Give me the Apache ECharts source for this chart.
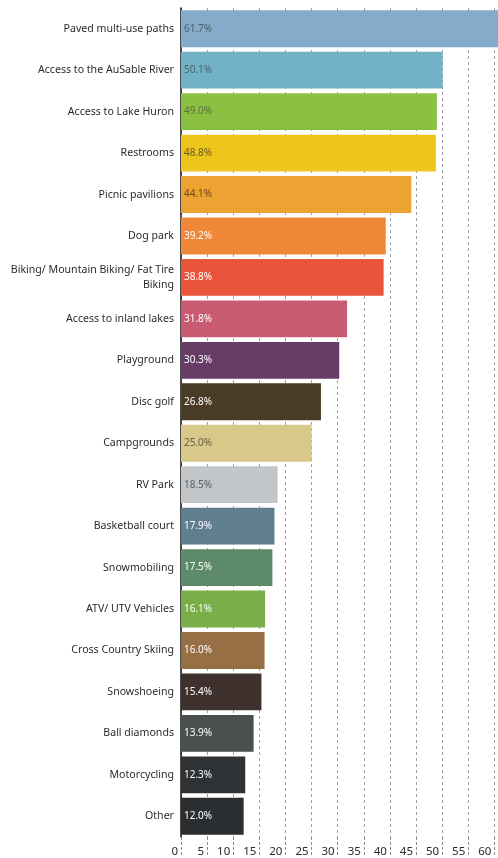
<!DOCTYPE html>
<html>
<head>
<meta charset="utf-8">
<script src="https://cdn.jsdelivr.net/npm/echarts@6/dist/echarts.min.js"></script>
<style>
  html, body { margin: 0; padding: 0; background: #fff; }
  #chart { width: 498px; height: 858px; }
</style>
</head>
<body>
<div id="chart"></div>
<script>
// Amenities, ordered from most to least requested
const categories = [
  'Paved multi-use paths',
  'Access to the AuSable River',
  'Access to Lake Huron',
  'Restrooms',
  'Picnic pavilions',
  'Dog park',
  'Biking/ Mountain Biking/ Fat Tire Biking',
  'Access to inland lakes',
  'Playground',
  'Disc golf',
  'Campgrounds',
  'RV Park',
  'Basketball court',
  'Snowmobiling',
  'ATV/ UTV Vehicles',
  'Cross Country Skiing',
  'Snowshoeing',
  'Ball diamonds',
  'Motorcycling',
  'Other'
];

// Share of respondents (%)
const values = [61.7, 50.1, 49.0, 48.8, 44.1, 39.2, 38.8, 31.8, 30.3, 26.8,
                25.0, 18.5, 17.9, 17.5, 16.1, 16.0, 15.4, 13.9, 12.3, 12.0];

const barColors = [
  '#84abc9', '#72b2c6', '#8bc142', '#eec51c', '#eea232',
  '#ef8638', '#e9553b', '#c85b72', '#673d68', '#4b3c27',
  '#d8c98b', '#c2c6c8', '#5f7e8f', '#5d8a69', '#79ae49',
  '#967044', '#3f312d', '#4a504c', '#2f3235', '#2b2e30'
];

const labelColors = [
  '#4d5c66', '#4d6470', '#5a6e3a', '#6a5a20', '#6a4a20',
  '#ffffff', '#ffffff', '#ffffff', '#ffffff', '#ffffff',
  '#6a6040', '#5a6066', '#ffffff', '#ffffff', '#ffffff',
  '#ffffff', '#ffffff', '#ffffff', '#ffffff', '#ffffff'
];

// The value axis runs past the right edge of the page, so the top bar is cut off
const xTicks = { min: 0, max: 60.7, interval: 5 };

const chart = echarts.init(document.getElementById('chart'), null, { renderer: 'canvas' });

chart.setOption({
  animation: false,
  backgroundColor: '#ffffff',
  grid: { left: 181, right: 0, top: 8, bottom: 20, containLabel: false },
  xAxis: {
    type: 'value',
    min: xTicks.min,
    max: xTicks.max,
    interval: xTicks.interval,
    axisLine: { show: false },
    axisTick: {
      show: true, length: 20,
      lineStyle: { color: '#8a8a8a', type: [3, 2], width: 1 }
    },
    axisLabel: {
      showMaxLabel: false,
      align: 'right',
      padding: [0, 3, 0, 0],
      margin: 9,
      color: '#2a2a2a',
      fontFamily: 'Noto Sans',
      fontSize: 11.5
    },
    splitLine: {
      show: true,
      lineStyle: { color: '#a0a0a0', type: [3, 3], width: 1 }
    }
  },
  yAxis: {
    type: 'category',
    data: categories,
    inverse: true,
    axisLine: { show: true, lineStyle: { color: '#111', width: 1.5 } },
    axisTick: { show: false },
    axisLabel: {
      margin: 7,
      color: '#2b2b2b',
      fontFamily: 'Noto Sans',
      fontSize: 10.6,
      lineHeight: 15,
      align: 'right',
      formatter: (name) => name === 'Biking/ Mountain Biking/ Fat Tire Biking'
        ? 'Biking/ Mountain Biking/ Fat Tire\nBiking' : name
    }
  },
  series: [{
    type: 'bar',
    barCategoryGap: '11%',
    data: values.map((v, i) => ({
      value: v,
      itemStyle: { color: barColors[i] },
      label: { color: labelColors[i] }
    })),
    label: {
      show: true,
      position: 'insideLeft',
      distance: 3,
      fontFamily: 'Noto Sans',
      fontSize: 10,
      formatter: (p) => p.value.toFixed(1) + '%'
    }
  }]
});
</script>
</body>
</html>
